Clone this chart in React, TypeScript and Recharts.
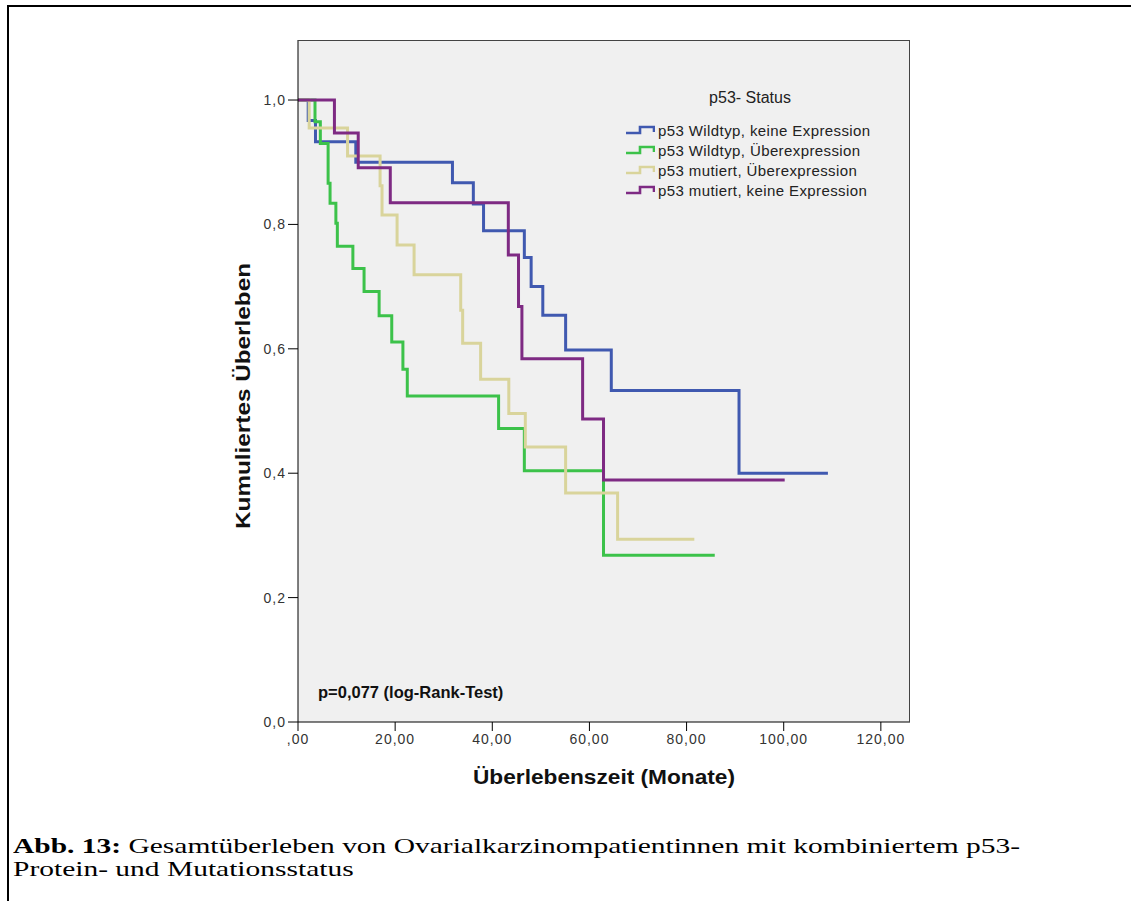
import React from 'react';
import { LineChart, Line, XAxis, YAxis, CartesianGrid, Legend } from 'recharts';

// axis ticks
const monthTicks = [0, 20, 40, 60, 80, 100, 120];
const survivalTicks = [0, 0.2, 0.4, 0.6, 0.8, 1.0];

// Kaplan-Meier steps (months / cumulative survival)
const wtNoneTimes = [0, 2.1, 3.6, 11.9, 31.8, 36.1, 38.2, 46.6, 48.0, 50.4, 55.1, 64.5, 90.8, 109.1];
const wtNoneSurv = [1, 0.967, 0.933, 0.9, 0.867, 0.833, 0.79, 0.747, 0.7, 0.654, 0.598, 0.533, 0.4, 0.4];

const wtOverTimes = [0, 3.5, 4.6, 6.2, 6.6, 7.8, 8.1, 11.3, 13.6, 16.7, 19.3, 21.6, 22.5, 41.3, 46.6, 62.9, 85.8];
const wtOverSurv = [1, 0.965, 0.93, 0.866, 0.834, 0.802, 0.765, 0.729, 0.692, 0.653, 0.611, 0.567, 0.524, 0.472, 0.404, 0.268, 0.268];

const mutOverTimes = [0, 2.3, 10.2, 16.9, 17.3, 20.4, 23.9, 33.5, 33.9, 37.6, 43.4, 46.8, 55.1, 65.8, 81.6];
const mutOverSurv = [1, 0.955, 0.91, 0.862, 0.815, 0.767, 0.719, 0.662, 0.609, 0.551, 0.496, 0.442, 0.368, 0.294, 0.294];

const mutNoneTimes = [0, 7.5, 12.4, 19.0, 43.3, 45.4, 46.1, 58.6, 62.9, 100.2];
const mutNoneSurv = [1, 0.947, 0.891, 0.835, 0.751, 0.668, 0.584, 0.487, 0.389, 0.389];

const seriesNames = [
  'p53 Wildtyp, keine Expression',
  'p53 Wildtyp, Überexpression',
  'p53 mutiert, Überexpression',
  'p53 mutiert, keine Expression',
];
const seriesColors = ['#4059b0', '#3cc24a', '#d9d49b', '#7e2a83'];

const toSteps = (times: number[], surv: number[]) =>
  times.map((t, i) => ({ t, s: surv[i] }));

const seriesData = [
  toSteps(wtNoneTimes, wtNoneSurv),
  toSteps(wtOverTimes, wtOverSurv),
  toSteps(mutOverTimes, mutOverSurv),
  toSteps(mutNoneTimes, mutNoneSurv),
];

const fmtMonth = (v: number) => (v === 0 ? ',00' : v.toFixed(2).replace('.', ','));
const fmtSurv = (v: number) => v.toFixed(1).replace('.', ',');

const sans = '"Liberation Sans", Arial, sans-serif';
const tickStyle = { fontSize: 14, fill: '#333', fontFamily: sans, letterSpacing: 1 };
const titleStyle = { fontSize: 20, fontWeight: 700, fill: '#111', fontFamily: sans };

function StepIcon({ color }: { color: string }) {
  return (
    <svg width={30} height={10} style={{ marginRight: 3 }}>
      <path d="M1,8 H15 V2 H29 V7" fill="none" stroke={color} strokeWidth={2.6} />
    </svg>
  );
}

function KmLegend() {
  return (
    <div style={{ fontFamily: sans, color: '#222' }}>
      <div style={{ width: 250, textAlign: 'center', fontSize: 16, height: 24, lineHeight: '24px', marginBottom: 10 }}>
        p53- Status
      </div>
      {seriesNames.map((name, i) => (
        <div key={name} style={{ display: 'flex', alignItems: 'center', height: 20, fontSize: 15, letterSpacing: 0.4 }}>
          <StepIcon color={seriesColors[i]} />
          <span>{name}</span>
        </div>
      ))}
    </div>
  );
}

export default function App() {
  return (
    <div style={{ position: 'fixed', left: 0, top: 0, width: 1131, height: 901, background: '#fff', overflow: 'hidden' }}>
      <style>{'html, body { margin: 0; overflow: hidden; }'}</style>
      {/* page frame: top and left rules only */}
      <div style={{ position: 'absolute', left: 7, top: 5, width: 1124, height: 2, background: '#000' }} />
      <div style={{ position: 'absolute', left: 7, top: 5, width: 2, height: 896, background: '#000' }} />
      <LineChart
        width={1131}
        height={901}
        margin={{ top: 40, right: 221, bottom: 149, left: 238 }}
      >
        <CartesianGrid fill="#f0f0f0" horizontal={false} vertical={false} />
        <XAxis
          dataKey="t"
          type="number"
          domain={[0, 126]}
          ticks={monthTicks}
          allowDataOverflow
          height={30}
          tickSize={9}
          tickMargin={3}
          tickFormatter={fmtMonth}
          tick={tickStyle}
          stroke="#000"
          label={{
            content: ({ viewBox }: any) => (
              <text
                x={viewBox.x + viewBox.width / 2}
                y={777}
                textAnchor="middle"
                dominantBaseline="central"
                textLength={262}
                lengthAdjust="spacingAndGlyphs"
                style={titleStyle}
              >
                Überlebenszeit (Monate)
              </text>
            ),
          }}
        />
        <YAxis
          dataKey="s"
          type="number"
          domain={[0, 1.0965]}
          ticks={survivalTicks}
          allowDataOverflow
          width={60}
          tickSize={10}
          tickMargin={2}
          tickFormatter={fmtSurv}
          tick={tickStyle}
          stroke="#000"
          label={{
            content: () => (
              <text
                x={243}
                y={396}
                transform="rotate(-90 243 396)"
                textAnchor="middle"
                dominantBaseline="central"
                textLength={266}
                lengthAdjust="spacingAndGlyphs"
                style={titleStyle}
              >
                Kumuliertes Überleben
              </text>
            ),
          }}
        />
        <Legend
          layout="vertical"
          align="center"
          verticalAlign="middle"
          content={() => <KmLegend />}
          wrapperStyle={{ position: 'absolute', left: 625, top: 86, width: 290, height: 124 }}
        />
        {seriesData.map((d, i) => (
          <Line
            key={seriesNames[i]}
            data={d}
            dataKey="s"
            name={seriesNames[i]}
            type="stepAfter"
            stroke={seriesColors[i]}
            strokeWidth={3}
            dot={false}
            activeDot={false}
            isAnimationActive={false}
          />
        ))}
      </LineChart>
      {/* plot frame */}
      <div
        style={{
          position: 'absolute', left: 298, top: 40, width: 612, height: 682, boxSizing: 'border-box',
          borderTop: '1px solid #444', borderRight: '1px solid #444', pointerEvents: 'none',
        }}
      />
      <div
        style={{
          position: 'absolute', left: 318, top: 683, fontSize: 16.5, fontWeight: 700,
          fontFamily: sans, color: '#111',
        }}
      >
        p=0,077 (log-Rank-Test)
      </div>
      <div
        style={{
          position: 'absolute', left: 13, top: 834, fontSize: 22, lineHeight: '23px',
          fontFamily: '"Liberation Serif", "Times New Roman", serif', color: '#000',
          whiteSpace: 'nowrap', transform: 'scaleX(1.34)', transformOrigin: 'left top',
        }}
      >
        <div><b>Abb. 13:</b> Gesamtüberleben von Ovarialkarzinompatientinnen mit kombiniertem p53-</div>
        <div>Protein- und Mutationsstatus</div>
      </div>
    </div>
  );
}
